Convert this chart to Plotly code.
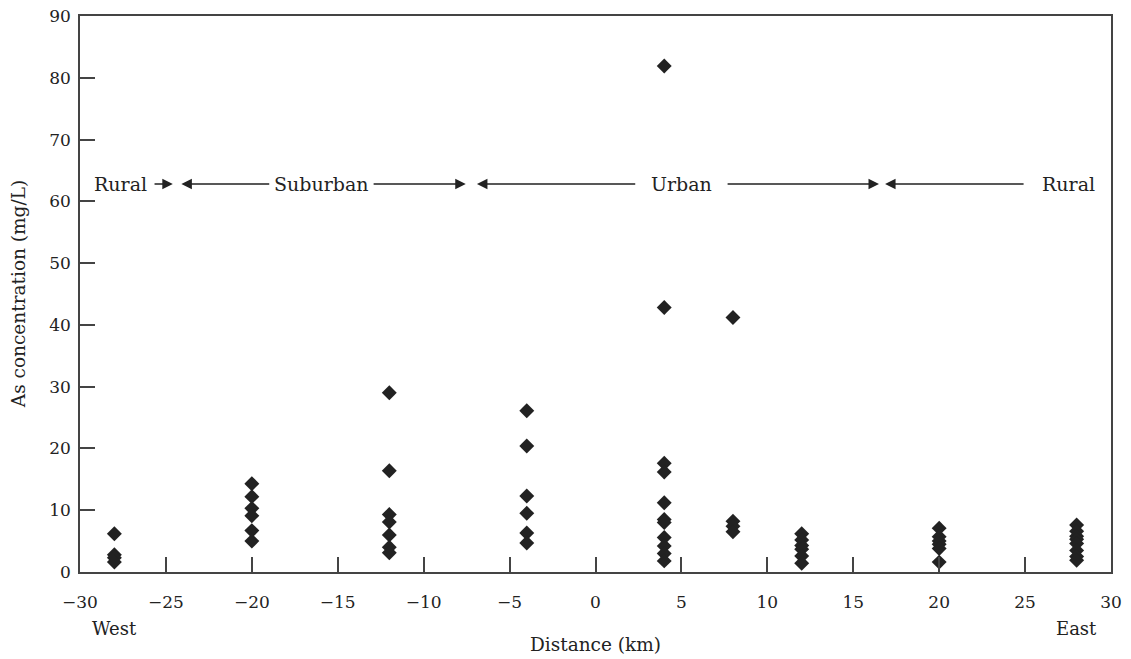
import plotly.graph_objects as go

# Distance (km) of each sampling group and measured As concentrations (mg/L)
distances = [-28, -20, -12, -4, 4, 8, 12, 20, 28]
concentrations = [
    [6.2, 2.8, 2.3, 1.6],
    [14.3, 12.2, 10.3, 9.1, 6.7, 5.0],
    [29.0, 16.4, 9.3, 8.1, 6.0, 4.0, 3.1],
    [26.1, 20.4, 12.3, 9.5, 6.3, 4.7],
    [81.9, 42.8, 17.6, 16.2, 11.2, 8.5, 8.0, 5.6, 4.2, 3.0, 1.8],
    [41.2, 8.2, 7.4, 6.5],
    [6.2, 5.2, 4.3, 3.7, 2.6, 1.4],
    [7.1, 5.7, 5.0, 4.5, 3.8, 1.6],
    [7.6, 6.6, 5.8, 5.3, 4.6, 3.5, 2.5, 1.9],
]

x_ticks = [-30, -25, -20, -15, -10, -5, 0, 5, 10, 15, 20, 25, 30]
y_ticks = [0, 10, 20, 30, 40, 50, 60, 70, 80, 90]

# Zone labels (text, centre position) and arrow segments (tail, tip)
zone_y = 62.8
zone_labels = [("Rural", -27.65), ("Suburban", -16.0), ("Urban", 5.0), ("Rural", 27.55)]
zone_arrows = [(-25.75, -24.6), (-18.9, -24.1), (-13.0, -7.55), (2.4, -6.9), (7.6, 16.5), (25.0, 16.85)]

xs, ys = [], []
for d, vals in zip(distances, concentrations):
    for v in vals:
        xs.append(d)
        ys.append(v)

FONT = "DejaVu Serif"
INK = "#222222"

fig = go.Figure()
fig.add_trace(go.Scatter(
    x=xs, y=ys, mode="markers",
    marker=dict(symbol="diamond", size=11.5, color=INK, line=dict(width=0)),
    showlegend=False, hoverinfo="x+y",
))

annotations = []
for text, xc in zone_labels:
    annotations.append(dict(x=xc, y=zone_y, xref="x", yref="y", text=text,
                            showarrow=False, font=dict(family=FONT, size=19, color=INK)))
for tail, tip in zone_arrows:
    annotations.append(dict(x=tip, y=zone_y, ax=tail, ay=zone_y, xref="x", yref="y",
                            axref="x", ayref="y", text="", showarrow=True,
                            arrowhead=2, arrowsize=1.5, arrowwidth=1.4, arrowcolor=INK,
                            standoff=0, startstandoff=0))

annotations += [
    dict(x=-28, y=-0.102, xref="x", yref="paper", text="West", showarrow=False,
         font=dict(family=FONT, size=18, color=INK), yanchor="middle"),
    dict(x=28, y=-0.102, xref="x", yref="paper", text="East", showarrow=False,
         font=dict(family=FONT, size=18, color=INK), yanchor="middle"),
    dict(x=0, y=-0.131, xref="x", yref="paper", text="Distance (km)", showarrow=False,
         font=dict(family=FONT, size=18.5, color=INK), yanchor="middle"),
    dict(x=-0.060, y=0.5, xref="paper", yref="paper", text="As concentration (mg/L)",
         showarrow=False, textangle=-90, font=dict(family=FONT, size=18.5, color=INK),
         xanchor="center"),
]

axis_common = dict(
    showline=True, linecolor="#444444", linewidth=1.5, mirror=True,
    ticks="inside", ticklen=15, tickwidth=1.5, tickcolor="#444444",
    showgrid=False, zeroline=False, automargin=False, ticklabeloverflow="allow",
    tickfont=dict(family=FONT, size=17, color=INK),
)

fig.update_layout(
    width=1131, height=659,
    margin=dict(l=80, r=20, t=15.5, b=87),
    paper_bgcolor="white", plot_bgcolor="white",
    xaxis=dict(range=[-30, 30], tickvals=x_ticks, ticklabelstandoff=14, **axis_common),
    yaxis=dict(range=[0, 90], tickvals=y_ticks, ticklabelstandoff=4, **axis_common),
    annotations=annotations,
)

# remove the page's default body margin so the figure fills the window exactly
fig.write_html("out.html", config={"displayModeBar": False},
               post_script="document.body.style.margin='0';")
